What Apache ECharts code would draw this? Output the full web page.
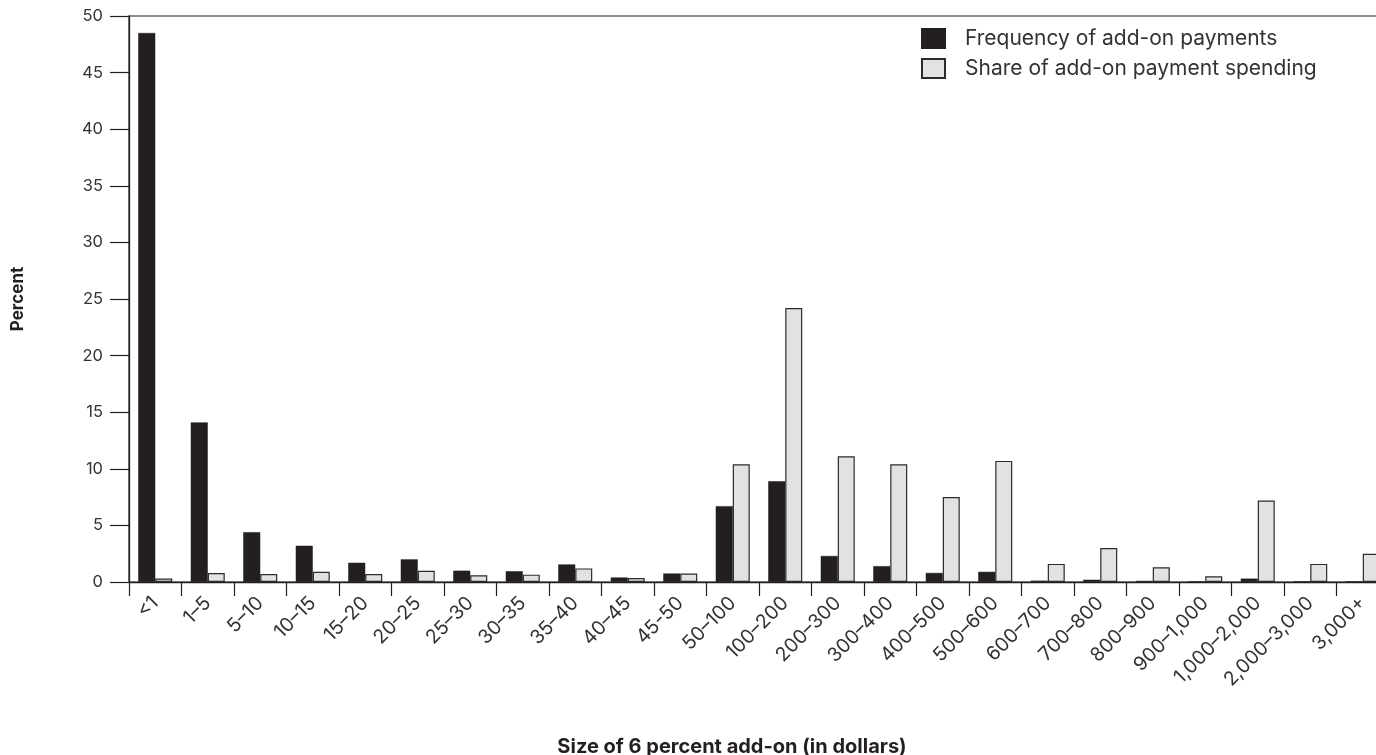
<!DOCTYPE html>
<html>
<head>
<meta charset="utf-8">
<script src="https://cdn.jsdelivr.net/npm/echarts@6/dist/echarts.min.js"></script>
<style>
html,body{margin:0;padding:0;background:#fff;}
#chart{width:1376px;height:755px;}
</style>
</head>
<body>
<div id="chart"></div>
<script>
const categories = ['<1','1–5','5–10','10–15','15–20','20–25','25–30','30–35','35–40','40–45','45-50','50–100','100–200','200–300','300–400','400–500','500–600','600–700','700–800','800–900','900–1,000','1,000–2,000','2,000–3,000','3,000+'];
const frequency = [48.5,14.1,4.4,3.2,1.7,2.0,1.0,0.95,1.55,0.4,0.75,6.7,8.9,2.3,1.4,0.8,0.9,0.12,0.2,0.1,0.05,0.3,0.05,0.05];
const spending = [0.3,0.8,0.7,0.9,0.7,1.0,0.6,0.65,1.2,0.35,0.75,10.4,24.2,11.1,10.4,7.5,10.7,1.6,3.0,1.3,0.5,7.2,1.6,2.5];
const yTicks = [0,5,10,15,20,25,30,35,40,45,50];
const seriesNames = ['Frequency of add-on payments','Share of add-on payment spending'];

const FONT = 'Inter';
const INK = '#231f20';
const chart = echarts.init(document.getElementById('chart'), null, {renderer:'canvas'});
chart.setOption({
  animation:false,
  backgroundColor:'#ffffff',
  textStyle:{fontFamily:FONT,color:INK},
  grid:{left:129,top:16,bottom:173,right:-13,show:true,borderColor:INK,borderWidth:1.2,containLabel:false,outerBoundsMode:'none'},
  legend:{
    orient:'vertical',left:916,top:23,itemWidth:23,itemHeight:19,itemGap:9,
    icon:'rect',
    textStyle:{fontFamily:FONT,fontSize:21,color:'#333',padding:[0,0,0,15],lineHeight:19},
    data:seriesNames
  },
  xAxis:{
    type:'category',data:categories,
    axisLine:{lineStyle:{color:INK,width:1.3}},
    axisTick:{show:true,length:14,lineStyle:{color:INK,width:1.2}},
    axisLabel:{rotate:45,interval:0,margin:18,fontFamily:FONT,fontSize:19.5,color:'#333'},
    name:'Size of 6 percent add-on (in dollars)',nameLocation:'middle',nameGap:155,
    nameTextStyle:{fontFamily:FONT,fontSize:20,fontWeight:'bold',color:INK,padding:[0,54,0,0]}
  },
  yAxis:{
    type:'value',min:yTicks[0],max:yTicks[yTicks.length-1],interval:5,
    axisLine:{show:true,lineStyle:{color:INK,width:1.3}},
    axisTick:{show:true,length:19,lineStyle:{color:INK,width:1.2}},
    splitLine:{show:false},
    axisLabel:{margin:26,fontFamily:FONT,fontSize:16.5,color:'#333'},
    name:'Percent',nameLocation:'middle',nameGap:103,nameRotate:90,
    nameTextStyle:{fontFamily:FONT,fontSize:17,fontWeight:'bold',color:INK}
  },
  series:[
    {name:seriesNames[0],type:'bar',data:frequency,barWidth:17,barGap:'0%',
     itemStyle:{color:INK,borderColor:INK,borderWidth:0.5}},
    {name:seriesNames[1],type:'bar',data:spending,barWidth:17,barGap:'0%',
     itemStyle:{color:'#e1e2e4',borderColor:'#2b2b2b',borderWidth:1.2}}
  ]
});
</script>
</body>
</html>
